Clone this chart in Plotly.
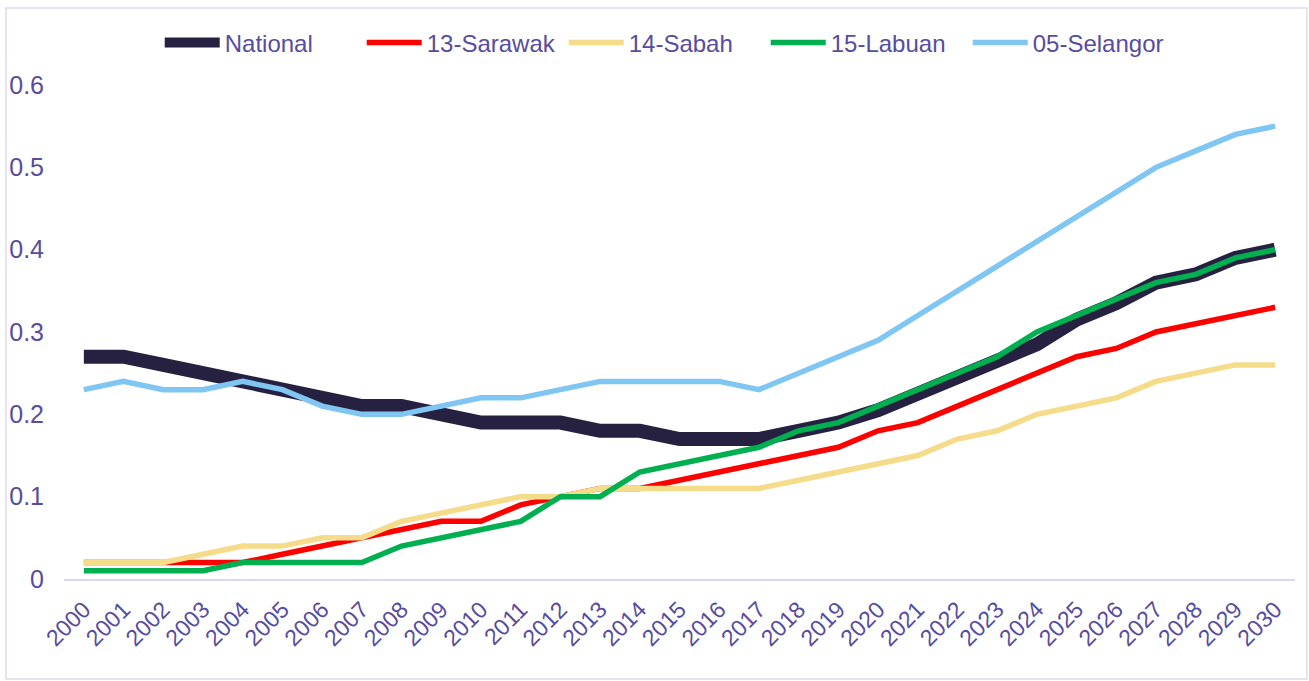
import plotly.graph_objects as go

years = list(range(2000, 2031))

national = [0.27, 0.27, 0.26, 0.25, 0.24, 0.23, 0.22, 0.21, 0.21, 0.20,
            0.19, 0.19, 0.19, 0.18, 0.18, 0.17, 0.17, 0.17, 0.18, 0.19,
            0.205, 0.225, 0.245, 0.265, 0.285, 0.315, 0.335, 0.36, 0.37, 0.39, 0.40]
sarawak = [0.02, 0.02, 0.02, 0.02, 0.02, 0.03, 0.04, 0.05, 0.06, 0.07,
           0.07, 0.09, 0.10, 0.11, 0.11, 0.12, 0.13, 0.14, 0.15, 0.16,
           0.18, 0.19, 0.21, 0.23, 0.25, 0.27, 0.28, 0.30, 0.31, 0.32, 0.33]
sabah = [0.02, 0.02, 0.02, 0.03, 0.04, 0.04, 0.05, 0.05, 0.07, 0.08,
         0.09, 0.10, 0.10, 0.11, 0.11, 0.11, 0.11, 0.11, 0.12, 0.13,
         0.14, 0.15, 0.17, 0.18, 0.20, 0.21, 0.22, 0.24, 0.25, 0.26, 0.26]
labuan = [0.01, 0.01, 0.01, 0.01, 0.02, 0.02, 0.02, 0.02, 0.04, 0.05,
          0.06, 0.07, 0.10, 0.10, 0.13, 0.14, 0.15, 0.16, 0.18, 0.19,
          0.21, 0.23, 0.25, 0.27, 0.30, 0.32, 0.34, 0.36, 0.37, 0.39, 0.40]
selangor = [0.23, 0.24, 0.23, 0.23, 0.24, 0.23, 0.21, 0.20, 0.20, 0.21,
            0.22, 0.22, 0.23, 0.24, 0.24, 0.24, 0.24, 0.23, 0.25, 0.27,
            0.29, 0.32, 0.35, 0.38, 0.41, 0.44, 0.47, 0.50, 0.52, 0.54, 0.55]

series = [
    ("National", national, "#262140", 14),
    ("13-Sarawak", sarawak, "#FF0000", 5.5),
    ("14-Sabah", sabah, "#F5DC8A", 5.5),
    ("15-Labuan", labuan, "#00B050", 5.5),
    ("05-Selangor", selangor, "#80C6F2", 5.5),
]

text_color = "#574C9E"
font_family = "Liberation Sans, Arial, sans-serif"

fig = go.Figure()
for name, vals, color, width in series:
    fig.add_trace(go.Scatter(
        x=years, y=vals, name=name, mode="lines",
        line=dict(color=color, width=width),
    ))

fig.update_layout(
    width=1309, height=681,
    paper_bgcolor="white", plot_bgcolor="white",
    margin=dict(l=64, r=14, t=85, b=102, autoexpand=False),
    font=dict(family=font_family, color=text_color, size=24),
    showlegend=True,
    legend=dict(
        orientation="h", x=0.488, xanchor="center", y=1.085, yanchor="middle",
        font=dict(size=24, color=text_color), bgcolor="rgba(0,0,0,0)",
        itemwidth=55, entrywidth=132,
    ),
    xaxis=dict(
        range=[1999.5, 2030.5], tickmode="array", tickvals=years,
        ticktext=[str(y) for y in years], tickangle=-45,
        tickfont=dict(size=23, color=text_color),
        showgrid=False, zeroline=False, automargin=False,
        showline=True, linecolor="#D9D8EC", linewidth=2,
        ticks="", ticklabelstandoff=6,
    ),
    yaxis=dict(
        range=[0, 0.6], tickvals=[0, 0.1, 0.2, 0.3, 0.4, 0.5, 0.6],
        ticktext=["0", "0.1", "0.2", "0.3", "0.4", "0.5", "0.6"],
        tickfont=dict(size=25, color=text_color),
        showgrid=False, zeroline=False, showline=False, automargin=False,
        ticks="", ticklabelstandoff=19,
    ),
    shapes=[dict(
        type="rect", xref="paper", yref="paper",
        x0=-0.0471, x1=1.0097, y0=-0.2024, y1=1.1559,
        line=dict(color="#DCDBEB", width=1.5), layer="below",
    )],
)

# drop the page's default body margin so the figure sits at the window corner
fig.write_html("out.html", config={"displayModeBar": False},
               post_script="document.body.style.margin='0px';")
